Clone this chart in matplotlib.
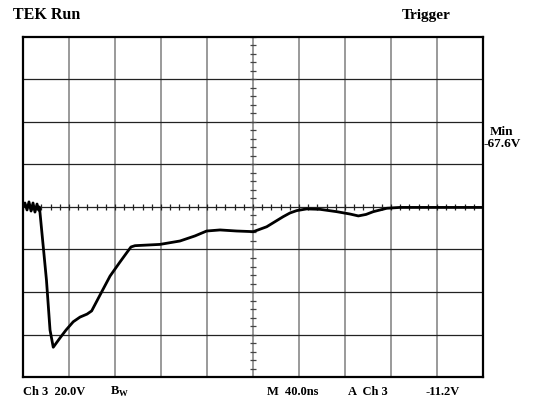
import numpy as np
import matplotlib
matplotlib.use("Agg")
import matplotlib.pyplot as plt

# scope settings: 40 ns/div horizontally, 20 V/div vertically
ns_per_div = 40.0
volt_per_div = 20.0
n_xdiv = 10
n_ydiv = 8

# trace (time in ns, level in V)
t_ns = [0, 1.7, 3.5, 5.2, 7.0, 8.7, 10.4, 12.2, 13.5, 14.3, 20.4, 23.5, 26.3,
        32.2, 37.4, 43.7, 49.6, 55.7, 59.7, 67.0, 75.7, 84.3, 91.3, 93.9, 97.4,
        119.1, 136.5, 149.6, 159.7, 171.3, 185.8, 200.3, 211.9, 226.1, 232.2,
        238.0, 246.7, 258.3, 272.8, 284.3, 291.6, 298.3, 304.6, 316.3, 327.8, 400]
volts = [0, 1.9, -1.4, 2.4, -1.9, 1.9, -2.4, 1.4, -1.4, 0, -34.4, -57.9, -66.0,
         -61.6, -57.9, -54.0, -51.8, -50.4, -48.9, -41.4, -32.5, -25.9, -20.7, -18.8, -18.2,
         -17.6, -16.0, -13.6, -11.3, -10.8, -11.3, -11.6, -9.3, -4.6, -2.8,
         -1.7, -0.9, -1.1, -2.2, -3.3, -4.2, -3.5, -2.2, -0.6, -0.2, -0.2]

xmax = ns_per_div * n_xdiv
ymax = volt_per_div * n_ydiv / 2

fig = plt.figure(figsize=(5.42, 4.03), dpi=100)
ax = fig.add_axes([23 / 542, 1 - 377 / 403, 460 / 542, 340 / 403])
ax.set_xlim(0, xmax)
ax.set_ylim(-ymax, ymax)
ax.set_xticks([])
ax.set_yticks([])
for s in ax.spines.values():
    s.set_linewidth(1.6)
    s.set_color("black")

# graticule
for i in range(1, n_xdiv):
    ax.axvline(i * ns_per_div, color="#7f7f7f", lw=1.1, zorder=1)
for j in range(1, n_ydiv):
    ax.axhline(-ymax + j * volt_per_div, color="#222222", lw=0.9, zorder=1)

# center axes with minor ticks (5 per division)
xc = xmax / 2
xt = np.arange(0, xmax + 0.1, ns_per_div / 5)
yt = np.arange(-ymax, ymax + 0.1, volt_per_div / 5)
ax.plot(xt, np.zeros_like(xt), ls="none", marker="|", ms=5, mew=0.9, color="#222222", zorder=2)
ax.plot(np.full_like(yt, xc), yt, ls="none", marker="_", ms=5, mew=0.9, color="#444444", zorder=2)

# trace
ax.plot(t_ns, volts, color="black", lw=2.0, solid_joinstyle="round",
        solid_capstyle="round", zorder=3)

bold = dict(family="Liberation Serif", weight="bold", color="black")
fig.text(13 / 542, 1 - 15 / 403, "TEK Run", fontsize=11.5, va="center", ha="left", **bold)
fig.text(402 / 542, 1 - 15 / 403, "Trigger", fontsize=11, va="center", ha="left", **bold)
fig.text(490 / 542, 1 - 132 / 403, "Min", fontsize=9.5, va="center", ha="left", **bold)
fig.text(483 / 542, 1 - 144 / 403, "-67.6V", fontsize=9.5, va="center", ha="left", **bold)

yb = 1 - 392 / 403
fig.text(23 / 542, yb, "Ch 3  20.0V", fontsize=9, va="center", ha="left", **bold)
fig.text(110 / 542, yb, r"B$_\mathregular{W}$", fontsize=9, va="center", ha="left", **bold)
fig.text(267 / 542, yb, "M  40.0ns", fontsize=9, va="center", ha="left", **bold)
fig.text(348 / 542, yb, "A  Ch 3", fontsize=9, va="center", ha="left", **bold)
fig.text(425 / 542, yb, "-11.2V", fontsize=9, va="center", ha="left", **bold)

fig.savefig("out.png", dpi=100)
